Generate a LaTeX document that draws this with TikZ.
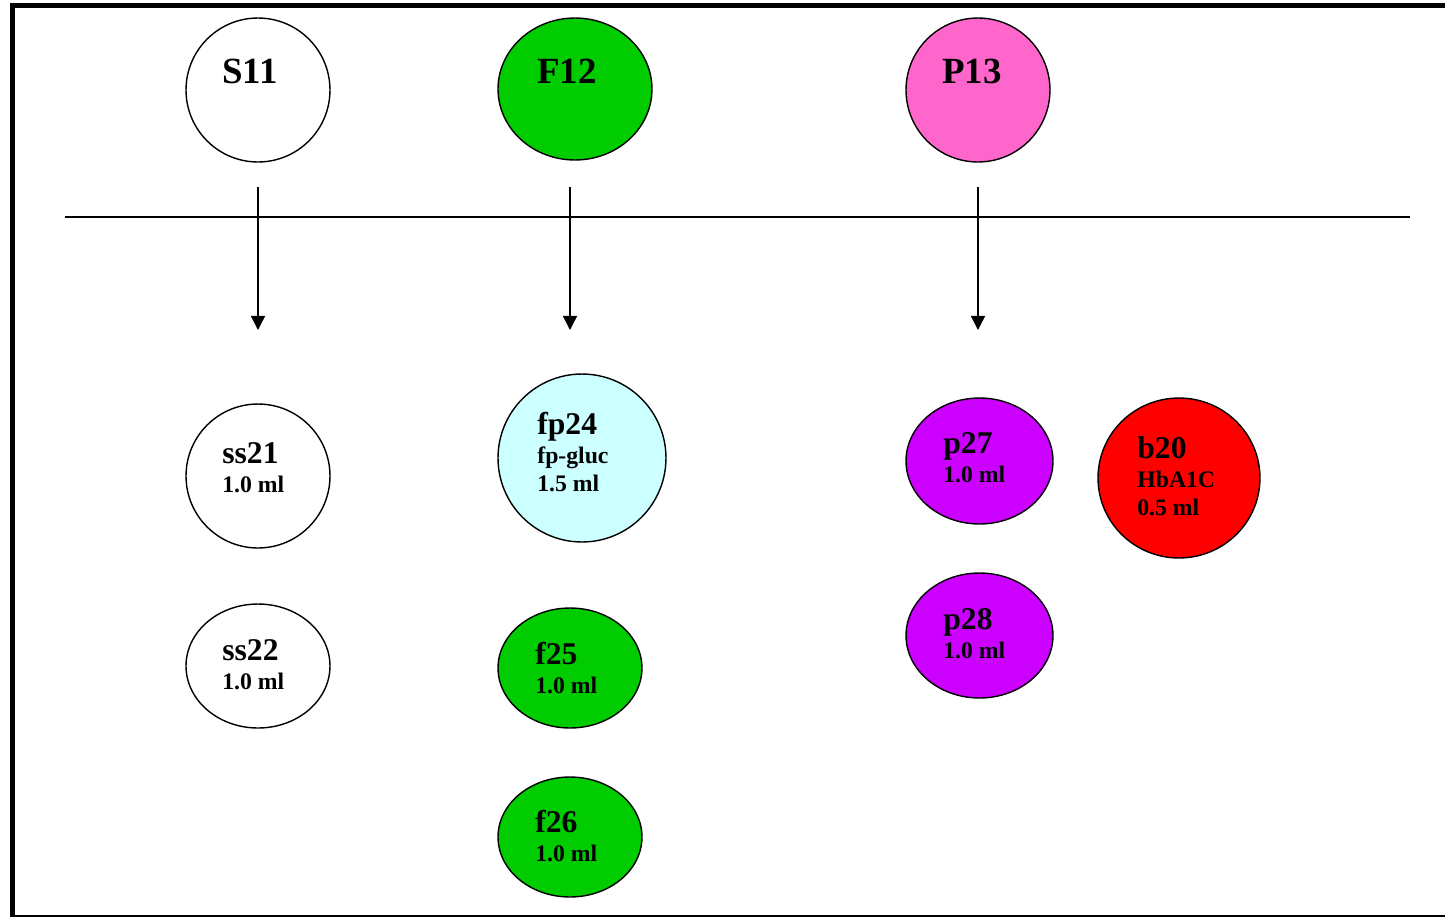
\documentclass[tikz,border=0pt]{standalone}
\usepackage{fontspec}
\setmainfont{Liberation Serif}
\usetikzlibrary{shapes.geometric,arrows.meta}
\definecolor{tubegreen}{RGB}{0,204,0}
\definecolor{tubepink}{RGB}{255,102,204}
\definecolor{tubecyan}{RGB}{204,255,255}
\definecolor{tubepurple}{RGB}{204,0,255}
\definecolor{tubered}{RGB}{255,0,0}
\newcommand{\tubename}[1]{{\fontsize{18}{18}\selectfont #1}\\[1pt]}

\begin{document}
\begin{tikzpicture}[
  x=0.02cm, y=-0.02cm,
  tube/.style={draw, ellipse, line width=0.8pt, inner sep=0pt},
  big/.style={font=\fontsize{21}{24}\selectfont\bfseries, inner sep=0pt, anchor=base west},
  lbl/.style={font=\fontsize{13.5}{15.5}\selectfont\bfseries, align=left, inner sep=0pt, anchor=base west},
  arr/.style={-{Triangle[length=8pt,width=8pt]}, line width=0.8pt},
]
\useasboundingbox (0,0) rectangle (1445,917);
\clip (0,0) rectangle (1445,917);
\draw[line width=2.3pt] (12.5,5.5) rectangle (1470,917);

% top row
\node[tube, minimum width=2.88cm, minimum height=2.88cm] (s11) at (258,90) {};
\node[tube, fill=tubegreen, minimum width=3.08cm, minimum height=2.84cm] (f12) at (575,89) {};
\node[tube, fill=tubepink, minimum width=2.88cm, minimum height=2.88cm] (p13) at (978,90) {};
\node[big] (s11t) at (222,83) {S11};
\node[big] (f12t) at (537,83) {F12};
\node[big] (p13t) at (942,83) {P13};

\draw[line width=0.8pt] (65,217) -- (1410,217);

% arrows
\coordinate (s11a) at (258,187); \coordinate (s11b) at (258,330);
\coordinate (f12a) at (570,187); \coordinate (f12b) at (570,330);
\coordinate (p13a) at (978,187); \coordinate (p13b) at (978,330);
\draw[arr] (s11a) -- (s11b);
\draw[arr] (f12a) -- (f12b);
\draw[arr] (p13a) -- (p13b);

% serum (labels sit on their last line)
\node[tube, minimum width=2.88cm, minimum height=2.88cm] (ss21) at (258,476) {};
\node[tube, minimum width=2.88cm, minimum height=2.48cm] (ss22) at (258,666) {};
\node[lbl] (ss21t) at (222,492) {\tubename{ss21}1.0 ml};
\node[lbl] (ss22t) at (222,689) {\tubename{ss22}1.0 ml};

% fluoride
\node[tube, fill=tubecyan, minimum width=3.36cm, minimum height=3.36cm] (fp24) at (582,458) {};
\node[tube, fill=tubegreen, minimum width=2.88cm, minimum height=2.4cm] (f25) at (570,668) {};
\node[tube, fill=tubegreen, minimum width=2.88cm, minimum height=2.4cm] (f26) at (570,837) {};
\node[lbl] (fp24t) at (537,491) {\tubename{fp24}fp-gluc\\1.5 ml};
\node[lbl] (f25t) at (535,693) {\tubename{f25}1.0 ml};
\node[lbl] (f26t) at (535,861) {\tubename{f26}1.0 ml};

% plasma
\node[tube, fill=tubepurple, minimum width=2.94cm, minimum height=2.52cm] (p27) at (979.5,461) {};
\node[tube, fill=tubepurple, minimum width=2.94cm, minimum height=2.5cm] (p28) at (979.5,635.5) {};
\node[tube, fill=tubered, minimum width=3.24cm, minimum height=3.2cm] (b20) at (1179,478) {};
\node[lbl] (p27t) at (943,482) {\tubename{p27}1.0 ml};
\node[lbl] (p28t) at (943,658) {\tubename{p28}1.0 ml};
\node[lbl] (b20t) at (1137,515) {\tubename{b20}HbA1C\\0.5 ml};
\end{tikzpicture}
\end{document}
